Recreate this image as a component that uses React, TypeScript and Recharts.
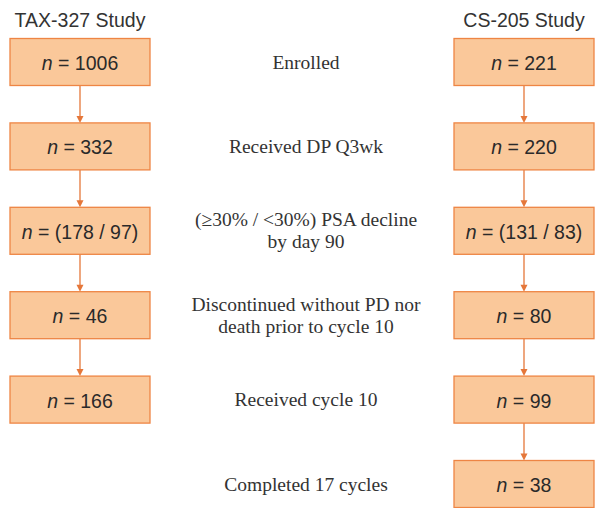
import React from "react";
import { ScatterChart, Scatter, XAxis, YAxis } from "recharts";

// Study columns and the stage labels shown in the middle
const studies = ["TAX-327 Study", "CS-205 Study"];
const stageLabels = [
    ["Enrolled"],
    ["Received DP Q3wk"],
    ["(\u226530% / <30%) PSA decline", "by day 90"],
    ["Discontinued without PD nor", "death prior to cycle 10"],
    ["Received cycle 10"],
    ["Completed 17 cycles"],
];
// patient counts per stage
const taxCounts = ["1006", "332", "(178 / 97)", "46", "166"];
const csCounts = ["221", "220", "(131 / 83)", "80", "99", "38"];

const W = 601;
const H = 508;
const MARGIN = { top: 62, right: 77, bottom: 24, left: 80 };
const BOX_W = 140;
const BOX_H = 47;
const STAGE_PX = (H - MARGIN.top - MARGIN.bottom) / (stageLabels.length - 1);
const FILL = "#FAC89A";
const STROKE = "#EE8544";
const ARROW = "#E5773A";

const taxBoxes = taxCounts.map((n, i) => ({ col: 0, stage: i, n }));
const csBoxes = csCounts.map((n, i) => ({ col: 2, stage: i, n }));
const midLabels = stageLabels.map((lines, i) => ({ col: 1, stage: i, lines }));
const arrowsFor = (col: number, count: number) =>
    Array.from({ length: count - 1 }, (_, i) => ({ col, stage: i + 0.5 }));
const arrows = [...arrowsFor(0, taxCounts.length), ...arrowsFor(2, csCounts.length)];
const titles = studies.map((t, i) => ({ col: i * 2, stage: 0, t }));

const BoxShape = (props: any) => {
    const { cx, cy, payload } = props;
    return (
        <g>
            <rect
                x={cx - BOX_W / 2}
                y={cy - BOX_H / 2}
                width={BOX_W}
                height={BOX_H}
                fill={FILL}
                stroke={STROKE}
                strokeWidth={1.3}
            />
            <text
                x={cx}
                y={cy + 1}
                textAnchor="middle"
                dominantBaseline="central"
                fontFamily="'Liberation Sans', Arial, sans-serif"
                fontSize={19.5}
                fill="#2a2a2a"
            >
                <tspan fontStyle="italic">n</tspan> = {payload.n}
            </text>
        </g>
    );
};

const ArrowShape = (props: any) => {
    const { cx, cy } = props;
    const half = (STAGE_PX - BOX_H) / 2;
    const top = cy - half;
    const bottom = cy + half;
    return (
        <g>
            <line x1={cx} y1={top} x2={cx} y2={bottom - 5} stroke={ARROW} strokeWidth={1.3} />
            <path
                d={`M${cx - 3.5},${bottom - 7} L${cx + 3.5},${bottom - 7} L${cx},${bottom} Z`}
                fill={ARROW}
            />
        </g>
    );
};

const LabelShape = (props: any) => {
    const { cx, cy, payload } = props;
    const lines: string[] = payload.lines;
    const lh = 22;
    const start = cy - ((lines.length - 1) * lh) / 2;
    return (
        <text
            x={cx + 4}
            textAnchor="middle"
            fontFamily="'Liberation Serif', 'Times New Roman', serif"
            fontSize={19.5}
            fill="#333333"
        >
            {lines.map((l, i) => (
                <tspan key={i} x={cx + 4} y={start + i * lh} dominantBaseline="central">
                    {l}
                </tspan>
            ))}
        </text>
    );
};

const TitleShape = (props: any) => {
    const { cx, cy, payload } = props;
    return (
        <text
            x={cx}
            y={cy - 35}
            textAnchor="middle"
            fontFamily="'Liberation Sans', Arial, sans-serif"
            fontSize={19.5}
            fill="#333333"
        >
            {payload.t}
        </text>
    );
};

export default function App() {
    return (
        <div style={{ position: "absolute", left: 0, top: 0, width: W, height: H, background: "#fff" }}>
            <ScatterChart width={W} height={H} margin={MARGIN}>
                <XAxis type="number" dataKey="col" domain={[0, 2]} hide />
                <YAxis type="number" dataKey="stage" domain={[0, 5]} reversed hide />
                <Scatter data={arrows} shape={<ArrowShape />} isAnimationActive={false} />
                <Scatter data={taxBoxes} shape={<BoxShape />} isAnimationActive={false} />
                <Scatter data={csBoxes} shape={<BoxShape />} isAnimationActive={false} />
                <Scatter data={midLabels} shape={<LabelShape />} isAnimationActive={false} />
                <Scatter data={titles} shape={<TitleShape />} isAnimationActive={false} />
            </ScatterChart>
        </div>
    );
}
